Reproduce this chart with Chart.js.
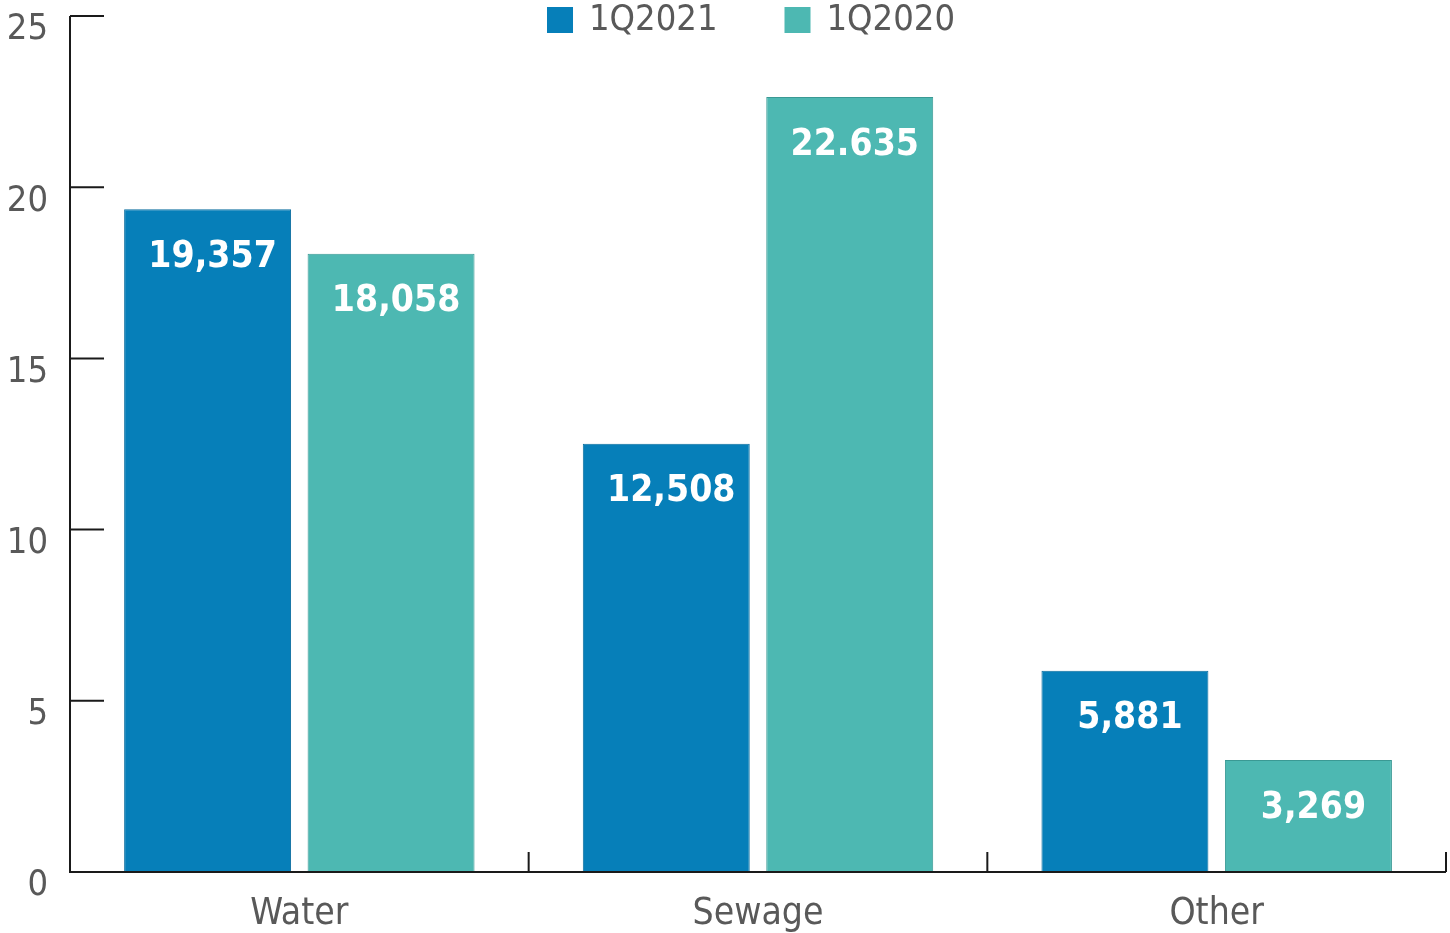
<!DOCTYPE html>
<html>
<head>
<meta charset="utf-8">
<title>Revenue by segment</title>
<script src="https://cdn.jsdelivr.net/npm/chart.js@4/dist/chart.umd.min.js"></script>
<style>
  html, body { margin: 0; padding: 0; background: #ffffff; }
  #wrap { width: 1450px; height: 933px; }
</style>
</head>
<body>
<div id="wrap"><canvas id="segmentChart" width="1450" height="933"></canvas></div>
<script>
const categories = ['Water', 'Sewage', 'Other'];
const seriesNames = ['1Q2021', '1Q2020'];
const q2021 = [19.357, 12.508, 5.881];
const q2020 = [18.058, 22.635, 3.269];
const q2021Labels = ['19,357', '12,508', '5,881'];
const q2020Labels = ['18,058', '22.635', '3,269'];
const yTicks = [0, 5, 10, 15, 20, 25];

const FONT = '"DejaVu Sans Condensed", "DejaVu Sans", Verdana, sans-serif';
const TEXT_GREY = '#595959';
const AXIS_COLOR = '#1a1a1a';

// white value labels just inside the top of each bar
const barValues = {
    id: 'barValues',
    afterDatasetsDraw(chart) {
        const ctx = chart.ctx;
        ctx.save();
        ctx.font = 'bold 37px ' + FONT;
        ctx.fillStyle = '#ffffff';
        ctx.textAlign = 'center';
        ctx.textBaseline = 'middle';
        chart.data.datasets.forEach((ds, i) => {
            chart.getDatasetMeta(i).data.forEach((bar, j) => {
                ctx.fillText(ds.valueLabels[j], bar.x + 5, bar.y + 48);
            });
        });
        ctx.restore();
    }
};

// axis lines with inward tick marks
const axisLines = {
    id: 'axisLines',
    afterDatasetsDraw(chart) {
        const { ctx, chartArea: { left, right, bottom }, scales: { x, y } } = chart;
        ctx.save();
        ctx.strokeStyle = AXIS_COLOR;
        ctx.lineWidth = 2;
        ctx.beginPath();
        ctx.moveTo(left, y.getPixelForValue(yTicks[yTicks.length - 1]));
        ctx.lineTo(left, bottom);
        ctx.lineTo(right, bottom);
        yTicks.forEach(v => {
            const py = y.getPixelForValue(v);
            ctx.moveTo(left, py);
            ctx.lineTo(left + 34, py);
        });
        categories.forEach((c, i) => {
            const px = x.getPixelForValue(i + 0.5);
            ctx.moveTo(px, bottom);
            ctx.lineTo(px, bottom - 20);
        });
        ctx.stroke();
        ctx.restore();
    }
};

// legend centred above the plot
const topLegend = {
    id: 'topLegend',
    afterDraw(chart) {
        const { ctx, chartArea } = chart;
        const box = 26, gap = 16, spacing = 67;
        ctx.save();
        ctx.font = '36px ' + FONT;
        ctx.textBaseline = 'middle';
        const widths = chart.data.datasets.map(ds => box + gap + ctx.measureText(ds.label).width);
        const total = widths.reduce((a, b) => a + b, 0) + spacing * (widths.length - 1);
        let x0 = (chartArea.left + chartArea.right) / 2 - total / 2 - 7;
        const cy = 20;
        chart.data.datasets.forEach((ds, i) => {
            ctx.fillStyle = ds.backgroundColor;
            ctx.fillRect(x0, cy - box / 2, box, box);
            ctx.fillStyle = TEXT_GREY;
            ctx.fillText(ds.label, x0 + box + gap, cy + 1);
            x0 += widths[i] + spacing;
        });
        ctx.restore();
    }
};

const ctx = document.getElementById('segmentChart').getContext('2d');
const segmentChart = new Chart(ctx, {
    type: 'bar',
    data: {
        labels: categories,
        datasets: [
            {
                label: seriesNames[0],
                data: q2021,
                valueLabels: q2021Labels,
                backgroundColor: '#067fb9',
                borderColor: '#0a6d9e',
                borderWidth: 1,
                categoryPercentage: 0.8,
                barPercentage: 0.91
            },
            {
                label: seriesNames[1],
                data: q2020,
                valueLabels: q2020Labels,
                backgroundColor: '#4db8b2',
                borderColor: '#3a9994',
                borderWidth: 1,
                categoryPercentage: 0.8,
                barPercentage: 0.91
            }
        ]
    },
    options: {
        responsive: false,
        animation: false,
        layout: {
            padding: { top: 16, right: 4, bottom: 1, left: 8 }
        },
        plugins: {
            legend: { display: false },
            tooltip: { enabled: false }
        },
        scales: {
            x: {
                grid: { display: false, drawTicks: false },
                border: { display: false },
                afterFit(scale) {
                    scale.height = 60;
                },
                ticks: {
                    color: TEXT_GREY,
                    padding: 26,
                    font: { family: FONT, size: 37, lineHeight: 0.9 }
                }
            },
            y: {
                min: 0,
                max: 25,
                grid: { display: false, drawTicks: false },
                border: { display: false },
                afterBuildTicks(scale) {
                    scale.ticks = yTicks.map(v => ({ value: v }));
                },
                afterFit(scale) {
                    scale.width = 62;
                    scale.paddingTop = 0;
                    scale.paddingBottom = 0;
                },
                ticks: {
                    color: TEXT_GREY,
                    padding: 22,
                    labelOffset: 14,
                    font: { family: FONT, size: 36, lineHeight: 0.9 }
                }
            }
        }
    },
    plugins: [axisLines, barValues, topLegend]
});
</script>
</body>
</html>
